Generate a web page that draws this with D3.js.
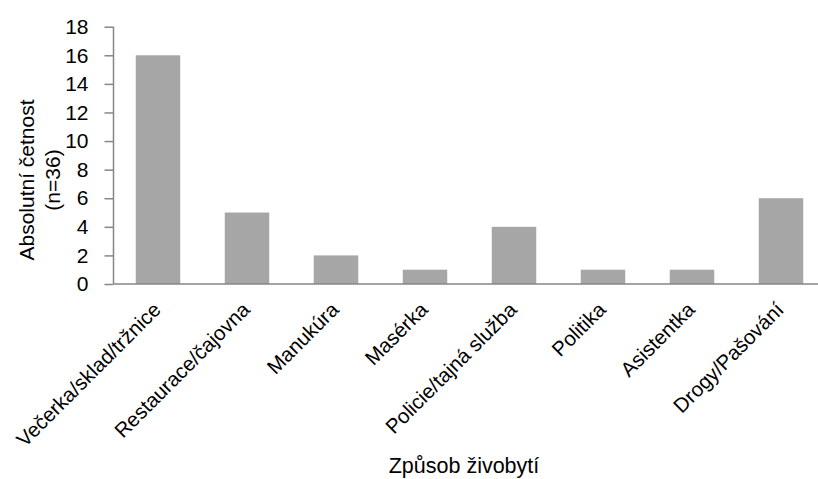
<!DOCTYPE html>
<html><head><meta charset="utf-8">
<script src="https://cdn.jsdelivr.net/npm/d3@7"></script>
<style>body{margin:0;background:#fff}svg{display:block}text{font-family:"Liberation Sans",Arial,sans-serif;fill:#000}</style>
</head><body>
<script>
const categories = ["Večerka/sklad/tržnice","Restaurace/čajovna","Manukúra","Masérka","Policie/tajná služba","Politika","Asistentka","Drogy/Pašování"];
const values = [16,5,2,1,4,1,1,6];
const yTicks = [0,2,4,6,8,10,12,14,16,18];
const yTitle = ["Absolutní četnost","(n=36)"];
const xTitle = "Způsob živobytí";

const W = 818, H = 479;
const FONT = '"Liberation Sans",Arial,sans-serif';
const svg = d3.select("body").append("svg").attr("width", W).attr("height", H);
const x0 = 113.5, x1 = 825.5, yTop = 26.7, yBot = 284;
const x = d3.scaleBand().domain(categories).range([x0, x1]).paddingInner(0.5).paddingOuter(0.25);
const y = d3.scaleLinear().domain([0, 18]).range([yBot, yTop]);

svg.selectAll("rect.bar").data(values).join("rect").attr("class","bar")
  .attr("x", (d,i) => x(categories[i])).attr("width", x.bandwidth())
  .attr("y", d => y(d)).attr("height", d => yBot - y(d)).attr("fill", "#a6a6a6");

const ya = svg.append("g").attr("transform", `translate(${x0},0)`)
  .call(d3.axisLeft(y).tickValues(yTicks).tickSize(9).tickPadding(16).tickFormat(d3.format("d")));
ya.select(".domain").attr("stroke", "#868686").attr("stroke-width", 1.5).attr("d", `M0,${yTop}V${yBot}`);
ya.selectAll(".tick line").attr("stroke", "#868686").attr("stroke-width", 1.5);
ya.selectAll(".tick text").attr("font-size", 21).attr("font-family", FONT).attr("fill","#000");

const xa = svg.append("g").attr("transform", `translate(0,${yBot})`)
  .call(d3.axisBottom(x).tickSize(0).tickPadding(0));
xa.select(".domain").attr("stroke", "#868686").attr("stroke-width", 1.5).attr("d", `M${x0},0H${x1}`);
xa.selectAll(".tick text").attr("font-size", 20.5).attr("font-family", FONT).attr("fill","#000")
  .attr("text-anchor", "end").attr("dy", null).attr("y", null)
  .attr("transform", "translate(4,27) rotate(-45)");

svg.append("g").selectAll("text").data(yTitle).join("text")
  .attr("transform", (d,i) => `translate(${33.5 + i*26.5},180) rotate(-90)`)
  .attr("text-anchor", "middle").attr("font-size", 21).attr("font-family", FONT).text(d => d);

svg.append("text").attr("x", 464).attr("y", 473).attr("text-anchor", "middle")
  .attr("font-size", 21.5).attr("font-family", FONT).text(xTitle);
</script>
</body></html>
